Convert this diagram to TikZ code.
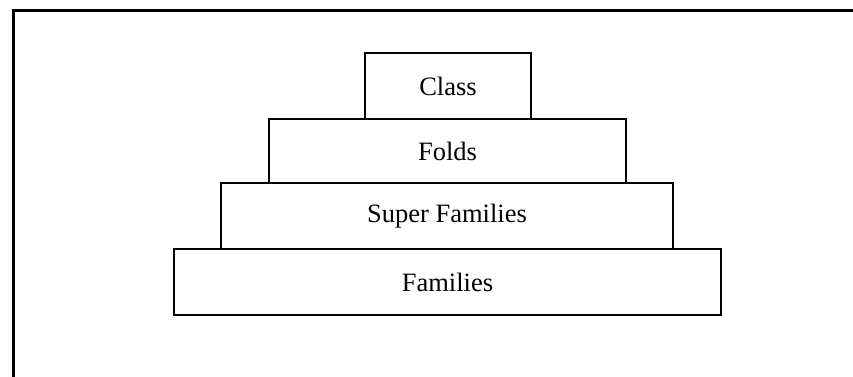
\documentclass[tikz,border=0pt]{standalone}
\usepackage{fontspec}
\setmainfont{Liberation Serif}
\begin{document}
\begin{tikzpicture}[x=1pt,y=-1pt,
  tier/.style={draw, line width=2pt, rectangle, inner sep=0pt, font=\fontsize{26.5}{30}\selectfont, fill=white}]
\useasboundingbox (0,0) rectangle (853,377);
\draw[line width=3pt] (13,377) -- (13,11) -- (853,11);
\node[tier, minimum width=547pt, minimum height=66pt] (families) at (447.5,282) {Families};
\node[tier, minimum width=452pt, minimum height=66pt] (super) at (447,216) {Super Families};
\node[tier, minimum width=357pt, minimum height=64pt] (folds) at (447.5,151) {Folds};
\node[tier, minimum width=166pt, minimum height=66pt] (class) at (448,86) {Class};
\end{tikzpicture}
\end{document}
